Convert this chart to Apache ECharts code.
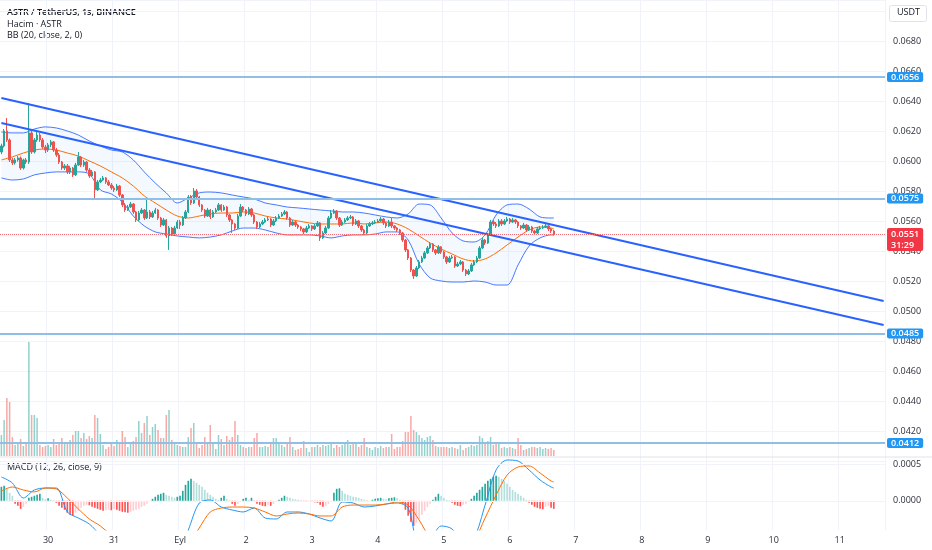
<!DOCTYPE html>
<html><head><meta charset="utf-8">
<script src="https://cdn.jsdelivr.net/npm/echarts/dist/echarts.min.js"></script>
<style>html,body{margin:0;padding:0;background:#fff}#c{width:932px;height:550px}</style>
</head><body><div id="c"></div>
<script>
// ---------- data (1-hour candles, ASTR/USDT) ----------
const firstOpen = 0.06060;
const closes = [0.06100,0.06200,0.06140,0.06007,0.05987,0.06007,0.06020,0.05953,0.06007,0.05993,
0.06187,0.06060,0.06140,0.06173,0.06140,0.06093,0.06073,0.06107,0.06127,0.06073,
0.06040,0.05993,0.05953,0.05967,0.05927,0.05953,0.05907,0.05973,0.06027,0.05973,
0.05993,0.05940,0.05900,0.05927,0.05807,0.05860,0.05873,0.05887,0.05860,0.05840,
0.05820,0.05807,0.05833,0.05773,0.05707,0.05673,0.05693,0.05713,0.05660,0.05607,
0.05653,0.05673,0.05620,0.05660,0.05627,0.05653,0.05673,0.05620,0.05573,0.05607,
0.05500,0.05553,0.05513,0.05553,0.05593,0.05573,0.05620,0.05660,0.05760,0.05720,
0.05800,0.05760,0.05707,0.05673,0.05633,0.05673,0.05627,0.05660,0.05673,0.05707,
0.05673,0.05693,0.05640,0.05607,0.05580,0.05553,0.05633,0.05693,0.05673,0.05647,
0.05680,0.05640,0.05593,0.05560,0.05580,0.05593,0.05607,0.05613,0.05573,0.05600,
0.05620,0.05633,0.05647,0.05660,0.05620,0.05573,0.05593,0.05573,0.05560,0.05547,
0.05527,0.05553,0.05567,0.05547,0.05567,0.05587,0.05487,0.05520,0.05553,0.05620,
0.05653,0.05667,0.05620,0.05573,0.05593,0.05607,0.05620,0.05627,0.05580,0.05600,
0.05567,0.05540,0.05520,0.05567,0.05580,0.05587,0.05593,0.05600,0.05613,0.05587,
0.05567,0.05593,0.05567,0.05553,0.05540,0.05520,0.05473,0.05407,0.05353,0.05273,
0.05233,0.05287,0.05327,0.05353,0.05387,0.05420,0.05447,0.05407,0.05387,0.05427,
0.05393,0.05360,0.05327,0.05353,0.05360,0.05300,0.05313,0.05327,0.05273,0.05247,
0.05267,0.05307,0.05327,0.05353,0.05420,0.05473,0.05453,0.05507,0.05593,0.05580,
0.05567,0.05600,0.05580,0.05600,0.05613,0.05593,0.05607,0.05593,0.05567,0.05553,
0.05573,0.05540,0.05560,0.05533,0.05520,0.05547,0.05553,0.05560,0.05567,0.05547,
0.05533,0.05510];
const highs = [0.06115,0.06213,0.06287,0.06150,0.06020,0.06020,0.06033,0.06030,0.06015,0.06020,
0.06387,0.06200,0.06153,0.06193,0.06187,0.06153,0.06107,0.06120,0.06140,0.06133,
0.06087,0.06053,0.06000,0.05980,0.05980,0.05967,0.05960,0.05987,0.06060,0.06033,
0.06007,0.06000,0.05953,0.05940,0.05933,0.05873,0.05887,0.05900,0.05893,0.05873,
0.05853,0.05833,0.05847,0.05840,0.05780,0.05720,0.05707,0.05727,0.05720,0.05667,
0.05667,0.05687,0.05680,0.05740,0.05673,0.05667,0.05687,0.05680,0.05627,0.05620,
0.05613,0.05567,0.05560,0.05567,0.05607,0.05607,0.05633,0.05673,0.05773,0.05773,
0.05820,0.05813,0.05767,0.05713,0.05680,0.05687,0.05680,0.05673,0.05687,0.05720,
0.05713,0.05707,0.05700,0.05647,0.05613,0.05587,0.05647,0.05713,0.05700,0.05680,
0.05693,0.05687,0.05647,0.05600,0.05593,0.05607,0.05620,0.05627,0.05620,0.05613,
0.05633,0.05647,0.05660,0.05673,0.05667,0.05627,0.05607,0.05600,0.05580,0.05567,
0.05553,0.05567,0.05580,0.05573,0.05580,0.05600,0.05593,0.05533,0.05567,0.05633,
0.05673,0.05680,0.05673,0.05627,0.05607,0.05620,0.05633,0.05640,0.05633,0.05613,
0.05607,0.05573,0.05547,0.05580,0.05593,0.05600,0.05607,0.05613,0.05627,0.05620,
0.05593,0.05607,0.05620,0.05573,0.05560,0.05547,0.05527,0.05480,0.05413,0.05360,
0.05280,0.05300,0.05340,0.05367,0.05400,0.05433,0.05460,0.05453,0.05413,0.05440,
0.05433,0.05400,0.05367,0.05367,0.05373,0.05367,0.05327,0.05340,0.05333,0.05280,
0.05280,0.05320,0.05340,0.05367,0.05433,0.05487,0.05480,0.05520,0.05607,0.05607,
0.05593,0.05613,0.05613,0.05613,0.05627,0.05620,0.05620,0.05613,0.05600,0.05573,
0.05587,0.05580,0.05573,0.05567,0.05540,0.05560,0.05567,0.05573,0.05580,0.05573,
0.05553,0.05540];
const lows = [0.06045,0.06090,0.06127,0.05993,0.05973,0.05975,0.05995,0.05940,0.05943,0.05980,
0.05980,0.06047,0.06050,0.06127,0.06127,0.06080,0.06053,0.06060,0.06093,0.06060,
0.06027,0.05980,0.05940,0.05940,0.05913,0.05913,0.05893,0.05900,0.05967,0.05960,
0.05960,0.05927,0.05887,0.05893,0.05753,0.05800,0.05853,0.05867,0.05847,0.05833,
0.05807,0.05793,0.05800,0.05760,0.05693,0.05660,0.05667,0.05687,0.05647,0.05593,
0.05600,0.05647,0.05607,0.05613,0.05613,0.05620,0.05647,0.05607,0.05560,0.05567,
0.05487,0.05407,0.05500,0.05507,0.05547,0.05547,0.05567,0.05613,0.05653,0.05707,
0.05713,0.05747,0.05693,0.05660,0.05620,0.05627,0.05613,0.05620,0.05653,0.05667,
0.05660,0.05667,0.05627,0.05593,0.05520,0.05540,0.05547,0.05627,0.05660,0.05633,
0.05640,0.05627,0.05580,0.05547,0.05553,0.05573,0.05587,0.05600,0.05560,0.05567,
0.05593,0.05613,0.05627,0.05640,0.05607,0.05560,0.05567,0.05560,0.05547,0.05533,
0.05513,0.05520,0.05547,0.05533,0.05540,0.05560,0.05467,0.05480,0.05513,0.05547,
0.05613,0.05647,0.05607,0.05560,0.05567,0.05587,0.05600,0.05613,0.05567,0.05573,
0.05553,0.05527,0.05507,0.05513,0.05560,0.05573,0.05580,0.05587,0.05593,0.05573,
0.05553,0.05560,0.05553,0.05540,0.05527,0.05507,0.05460,0.05393,0.05340,0.05260,
0.05213,0.05227,0.05280,0.05320,0.05347,0.05380,0.05413,0.05393,0.05373,0.05380,
0.05380,0.05347,0.05313,0.05320,0.05347,0.05287,0.05293,0.05307,0.05260,0.05233,
0.05240,0.05260,0.05300,0.05320,0.05347,0.05413,0.05440,0.05447,0.05500,0.05567,
0.05553,0.05560,0.05567,0.05573,0.05593,0.05580,0.05587,0.05580,0.05553,0.05540,
0.05547,0.05527,0.05533,0.05520,0.05507,0.05513,0.05540,0.05547,0.05553,0.05533,
0.05520,0.05503];
const volumes = [21,36,58,54,19,11,14,17,10,14,
114,41,41,38,11,9,10,11,9,17,
11,14,18,13,13,16,21,25,25,18,
23,17,20,18,41,38,22,11,7,9,
13,10,16,13,25,19,9,13,15,19,
35,23,33,40,21,29,32,26,18,18,
41,46,16,13,11,10,9,9,19,28,
33,13,8,11,19,14,31,13,7,21,
17,11,20,16,19,35,21,11,9,8,
9,9,18,23,9,9,10,9,13,18,
18,12,11,9,13,19,9,6,7,8,
15,8,4,9,9,11,9,11,10,11,
12,8,11,9,11,13,16,11,13,13,
9,11,18,9,8,6,9,8,10,8,
9,9,22,7,9,9,15,24,24,40,
26,24,21,18,16,19,20,16,10,9,
9,9,9,8,9,8,7,11,6,8,
9,11,10,11,20,18,13,15,19,11,
13,14,8,9,8,9,8,7,18,11,
6,7,8,9,9,8,9,7,8,7,
8,6];
const macdHist = [0.000192,0.000206,0.000164,0.000110,0.000069,-0.000041,-0.000069,-0.000110,-0.000082,-0.000041,
0.000041,0.000055,0.000069,0.000082,0.000096,0.000041,0.000021,0.000034,0.000014,0.000007,
-0.000027,-0.000069,-0.000096,-0.000123,-0.000164,-0.000192,-0.000206,-0.000164,-0.000137,-0.000096,
-0.000069,-0.000055,-0.000062,-0.000082,-0.000096,-0.000110,-0.000123,-0.000137,-0.000130,-0.000123,
-0.000130,-0.000116,-0.000123,-0.000137,-0.000151,-0.000158,-0.000164,-0.000151,-0.000137,-0.000123,
-0.000110,-0.000082,-0.000069,-0.000041,-0.000014,0.000027,0.000055,0.000082,0.000096,0.000110,
0.000082,0.000069,0.000055,0.000041,0.000055,0.000069,0.000137,0.000219,0.000274,0.000301,
0.000274,0.000247,0.000219,0.000192,0.000151,0.000110,0.000082,0.000055,0.000027,0.000014,
0.000041,0.000069,0.000027,-0.000014,-0.000041,-0.000069,-0.000041,-0.000014,0.000027,0.000041,
0.000014,0.000041,-0.000014,-0.000041,-0.000055,-0.000069,-0.000075,-0.000055,-0.000069,-0.000041,
-0.000014,0.000014,0.000041,0.000069,0.000055,0.000041,0.000027,0.000021,0.000014,-0.000007,
-0.000014,-0.000016,-0.000007,-0.000014,-0.000021,-0.000027,-0.000055,-0.000082,-0.000069,-0.000041,
-0.000014,0.000110,0.000164,0.000171,0.000137,0.000096,0.000082,0.000069,0.000055,0.000048,
0.000041,0.000027,0.000014,-0.000007,-0.000004,0.000014,0.000027,0.000034,0.000041,0.000027,
0.000021,0.000034,0.000041,0.000048,0.000034,0.000014,-0.000041,-0.000123,-0.000206,-0.000288,
-0.000343,-0.000301,-0.000247,-0.000192,-0.000137,-0.000082,-0.000041,0.000014,0.000055,0.000096,
0.000069,0.000041,0.000014,0.000007,-0.000027,-0.000055,-0.000069,-0.000075,-0.000055,-0.000041,
-0.000014,0.000027,0.000069,0.000110,0.000151,0.000192,0.000233,0.000274,0.000301,0.000329,
0.000343,0.000329,0.000301,0.000274,0.000233,0.000192,0.000151,0.000123,0.000096,0.000069,
0.000041,0.000014,-0.000027,-0.000055,-0.000082,-0.000096,-0.000110,-0.000116,-0.000082,-0.000069,
-0.000096,-0.000110];
// indicator lines read at every 4th candle
const bandIdx = [0,4,8,12,16,20,24,28,32,36,40,44,48,52,56,60,64,68,72,76,80,84,88,92,96,100,
104,108,112,116,120,124,128,132,136,140,144,148,152,156,160,164,168,172,176,180,184,188,192,196,200,201];
const bbUpper = [0.06193,0.06187,0.06187,0.06213,0.06227,0.06220,0.06200,0.06173,0.06133,0.06100,0.06073,0.06060,0.06007,
0.05927,0.05853,0.05787,0.05720,0.05753,0.05787,0.05793,0.05787,0.05773,0.05760,0.05747,0.05720,0.05707,
0.05693,0.05687,0.05680,0.05673,0.05667,0.05660,0.05660,0.05653,0.05640,0.05627,0.05620,0.05647,0.05713,
0.05707,0.05620,0.05520,0.05467,0.05460,0.05507,0.05640,0.05707,0.05713,0.05680,0.05627,0.05620,0.05620];
const bbMid = [0.06007,0.06027,0.06053,0.06073,0.06080,0.06073,0.06053,0.06033,0.06000,0.05967,0.05927,0.05887,0.05833,
0.05767,0.05720,0.05673,0.05633,0.05620,0.05633,0.05647,0.05653,0.05653,0.05660,0.05653,0.05633,0.05620,
0.05613,0.05600,0.05587,0.05580,0.05580,0.05580,0.05587,0.05580,0.05587,0.05593,0.05580,0.05547,0.05500,
0.05453,0.05413,0.05380,0.05347,0.05333,0.05347,0.05387,0.05440,0.05493,0.05540,0.05560,0.05553,0.05547];
const bbLower = [0.05887,0.05873,0.05880,0.05907,0.05920,0.05927,0.05927,0.05927,0.05913,0.05807,0.05780,0.05727,0.05633,
0.05567,0.05527,0.05513,0.05500,0.05493,0.05487,0.05493,0.05507,0.05533,0.05553,0.05553,0.05540,0.05520,
0.05507,0.05507,0.05507,0.05500,0.05487,0.05500,0.05507,0.05507,0.05513,0.05527,0.05527,0.05473,0.05313,
0.05220,0.05200,0.05193,0.05193,0.05200,0.05193,0.05173,0.05173,0.05307,0.05433,0.05487,0.05507,0.05507];
const macdLine = [0.000326,0.000244,0.000038,0.000148,0.000175,0.000175,-0.000153,-0.000236,-0.000318,-0.000469,-0.000606,
-0.000674,-0.000701,-0.000743,-0.000811,-0.000880,-0.000743,-0.000400,-0.000030,0.000011,-0.000085,-0.000126,-0.000153,
-0.000099,-0.000236,-0.000249,-0.000153,-0.000153,-0.000181,-0.000236,-0.000277,-0.000016,-0.000030,-0.000085,-0.000071,
-0.000044,-0.000030,-0.000099,-0.000606,-0.000537,-0.000345,-0.000386,-0.000606,-0.000510,-0.000058,0.000422,0.000559,
0.000545,0.000422,0.000285,0.000189,0.000175];
const signalLine = [0.000134,0.000189,0.000148,0.000121,0.000175,0.000162,0.000038,-0.000112,-0.000249,-0.000345,-0.000469,
-0.000564,-0.000647,-0.000715,-0.000770,-0.000811,-0.000784,-0.000606,-0.000373,-0.000153,-0.000099,-0.000085,-0.000085,
-0.000099,-0.000153,-0.000208,-0.000181,-0.000167,-0.000181,-0.000208,-0.000208,-0.000085,-0.000058,-0.000058,-0.000058,
-0.000044,-0.000016,-0.000058,-0.000263,-0.000496,-0.000537,-0.000578,-0.000606,-0.000537,-0.000236,0.000079,0.000353,
0.000463,0.000477,0.000381,0.000271,0.000258];
// drawn trend lines (slot index, price)
const trendX = [0, 321];
const trendUpperY = [0.06420, 0.05067];
const trendLowerY = [0.06253, 0.04907];
// horizontal levels and last price
const levels = [0.0656, 0.0575, 0.0485, 0.0412];
const lastPrice = 0.0551;
const countdown = '31:29';
// time axis
const dayLabels = ['30','31','Eyl','2','3','4','5','6','7','8','9','10','11'];
const firstDaySlot = 17, slotsPerDay = 24, slotCount = 322;

// ---------- build ----------
const UP = '#26a69a', DOWN = '#ef5350';
const slots = Array.from({length: slotCount}, (_, s) => String(s));
const isDayStart = i => i >= firstDaySlot && (i - firstDaySlot) % slotsPerDay === 0;
const dayLabelFor = i => dayLabels[(i - firstDaySlot) / slotsPerDay] || '';
const opens = closes.map((c, i) => i === 0 ? firstOpen : closes[i - 1]);
const candleData = closes.map((c, i) => [opens[i], c, lows[i], highs[i]]);
const volData = volumes.map((v, i) => ({value: v, itemStyle: {color: closes[i] >= opens[i] ? 'rgba(38,166,154,0.5)' : 'rgba(239,83,80,0.5)'}}));
const histData = macdHist.map((v, i) => {
  const p = i > 0 ? macdHist[i - 1] : v;
  let col;
  if (v >= 0) col = v >= p ? '#26a69a' : '#b2dfdb';
  else col = v <= p ? '#ff5252' : '#ffcdd2';
  return {value: v, itemStyle: {color: col}};
});
const pairs = arr => bandIdx.map((x, k) => [x, arr[k]]);
const bandDiff = bandIdx.map((x, k) => [x, bbUpper[k] - bbLower[k]]);

function xAx(grid, showLabels) {
  return {
    type: 'category', gridIndex: grid, data: slots, boundaryGap: true,
    axisLine: {show: false}, axisTick: {show: false},
    axisLabel: {show: showLabels, interval: (i) => isDayStart(i), formatter: (v, i) => dayLabelFor(i),
      color: '#2a2e39', fontSize: 9, margin: 6, fontFamily: 'Open Sans'},
    splitLine: {show: true, interval: (i) => isDayStart(i), lineStyle: {color: '#f0f3fa', width: 1}}
  };
}

const levelMarks = levels.map(v => ({
  yAxis: v,
  lineStyle: {color: '#8fbfe6', width: 2, type: 'solid'},
  label: {formatter: v.toFixed(4), backgroundColor: '#2196f3'}
}));
levelMarks.push({
  yAxis: lastPrice,
  lineStyle: {color: '#f26b75', width: 1, type: 'dotted'},
  label: {formatter: lastPrice.toFixed(4) + '\n' + countdown, backgroundColor: '#f23645', lineHeight: 11, offset: [0, 5]}
});

const option = {
  animation: false,
  backgroundColor: '#ffffff',
  textStyle: {fontFamily: 'Open Sans'},
  grid: [
    {left: 0, right: 47, top: 0, height: 461, outerBoundsMode: 'none'},
    {left: 0, right: 47, top: 336, height: 120, outerBoundsMode: 'none'},
    {left: 0, right: 47, top: 457, height: 73, outerBoundsMode: 'none'}
  ],
  xAxis: [xAx(0, false), xAx(1, false), xAx(2, true)],
  yAxis: [
    {type: 'value', gridIndex: 0, position: 'right', min: 0.0400, max: 0.07073, interval: 0.002,
      axisLine: {show: false}, axisTick: {show: false},
      axisLabel: {color: '#2a2e39', fontSize: 9, margin: 8, fontFamily: 'Open Sans',
        formatter: v => (v < 0.0415 || v > 0.0695) ? '' : v.toFixed(4)},
      splitLine: {show: true, lineStyle: {color: '#f0f3fa'}}},
    {type: 'value', gridIndex: 1, min: 0, max: 120, show: false},
    {type: 'value', gridIndex: 2, position: 'right', min: -0.0004, max: 0.0006, interval: 0.0001,
      axisLine: {show: false}, axisTick: {show: false}, splitLine: {show: false},
      axisLabel: {color: '#2a2e39', fontSize: 9, margin: 8, fontFamily: 'Open Sans',
        formatter: v => (Math.abs(v - 0.0005) < 1e-9 || Math.abs(v) < 1e-9) ? Math.abs(v).toFixed(4) : ''}}
  ],
  series: [
    {name: 'bbBase', type: 'line', xAxisIndex: 0, yAxisIndex: 0, data: pairs(bbLower), stack: 'bb',
      symbol: 'none', smooth: 0.3, lineStyle: {opacity: 0}, silent: true, z: 1},
    {name: 'bbFill', type: 'line', xAxisIndex: 0, yAxisIndex: 0, data: bandDiff, stack: 'bb',
      symbol: 'none', smooth: 0.3, lineStyle: {opacity: 0}, areaStyle: {color: 'rgba(33,150,243,0.08)'}, silent: true, z: 1},
    {name: 'BB upper', type: 'line', xAxisIndex: 0, yAxisIndex: 0, data: pairs(bbUpper), symbol: 'none', smooth: 0.3,
      lineStyle: {color: '#2962ff', width: 1, opacity: 0.85}, silent: true, z: 2},
    {name: 'BB lower', type: 'line', xAxisIndex: 0, yAxisIndex: 0, data: pairs(bbLower), symbol: 'none', smooth: 0.3,
      lineStyle: {color: '#2962ff', width: 1, opacity: 0.85}, silent: true, z: 2},
    {name: 'BB basis', type: 'line', xAxisIndex: 0, yAxisIndex: 0, data: pairs(bbMid), symbol: 'none', smooth: 0.3,
      lineStyle: {color: '#ff6d00', width: 1}, silent: true, z: 2},
    {name: 'ASTR', type: 'candlestick', xAxisIndex: 0, yAxisIndex: 0, data: candleData, barWidth: '70%',
      itemStyle: {color: UP, color0: DOWN, borderColor: UP, borderColor0: DOWN, borderWidth: 1}, z: 3},
    {name: 'trendUpper', type: 'line', xAxisIndex: 0, yAxisIndex: 0,
      data: trendX.map((x, k) => [x, trendUpperY[k]]), symbol: 'none',
      lineStyle: {color: '#2962ff', width: 2}, silent: true, z: 4, clip: false,
      markLine: {silent: true, symbol: ['none', 'none'], precision: 5, data: levelMarks,
        label: {show: true, position: 'end', distance: 2, color: '#fff', fontSize: 9, fontWeight: 600, fontFamily: 'Open Sans',
          padding: [1, 4, 0, 4], borderRadius: 2}}},
    {name: 'trendLower', type: 'line', xAxisIndex: 0, yAxisIndex: 0,
      data: trendX.map((x, k) => [x, trendLowerY[k]]), symbol: 'none',
      lineStyle: {color: '#2962ff', width: 2}, silent: true, z: 4},
    {name: 'Hacim', type: 'bar', xAxisIndex: 1, yAxisIndex: 1, data: volData, barWidth: '55%', silent: true, z: 1},
    {name: 'Histogram', type: 'bar', xAxisIndex: 2, yAxisIndex: 2, data: histData, barWidth: '60%', silent: true, z: 2,
      markLine: {silent: true, symbol: ['none', 'none'], precision: 6, label: {show: false},
        lineStyle: {color: '#f0f3fa', width: 1, type: 'solid'}, data: [{yAxis: 0.0005}, {yAxis: 0}]}},
    {name: 'MACD', type: 'line', xAxisIndex: 2, yAxisIndex: 2, data: pairs(macdLine), symbol: 'none', smooth: 0.3,
      lineStyle: {color: '#2196f3', width: 1}, silent: true, z: 3},
    {name: 'Signal', type: 'line', xAxisIndex: 2, yAxisIndex: 2, data: pairs(signalLine), symbol: 'none', smooth: 0.3,
      lineStyle: {color: '#ff6d00', width: 1}, silent: true, z: 3}
  ],
  graphic: [
    {type: 'text', left: 7, top: 8, style: {text: 'ASTR / TetherUS, 1s, BINANCE', fill: '#131722', font: '600 9px "Open Sans"'}},
    {type: 'text', left: 7, top: 20, style: {text: 'Hacim · ASTR', fill: '#131722', font: '9px "Open Sans"'}},
    {type: 'text', left: 7, top: 31, style: {text: 'BB (20, close, 2, 0)', fill: '#131722', font: '9px "Open Sans"'}},
    {type: 'text', left: 7, top: 463, style: {text: 'MACD (12, 26, close, 9)', fill: '#131722', font: '9px "Open Sans"'}},
    {type: 'rect', left: 889, top: 5, shape: {width: 37, height: 16, r: 2}, style: {fill: '#fff', stroke: '#e0e3eb', lineWidth: 1}, z: 10},
    {type: 'text', left: 897, top: 8, style: {text: 'USDT', fill: '#131722', font: '9px "Open Sans"'}, z: 11},
    {type: 'line', shape: {x1: 0, y1: 457, x2: 932, y2: 457}, style: {stroke: '#e0e3eb', lineWidth: 1}, z: 10}
  ]
};
const chart = echarts.init(document.getElementById('c'));
chart.setOption(option);
</script>
</body></html>
